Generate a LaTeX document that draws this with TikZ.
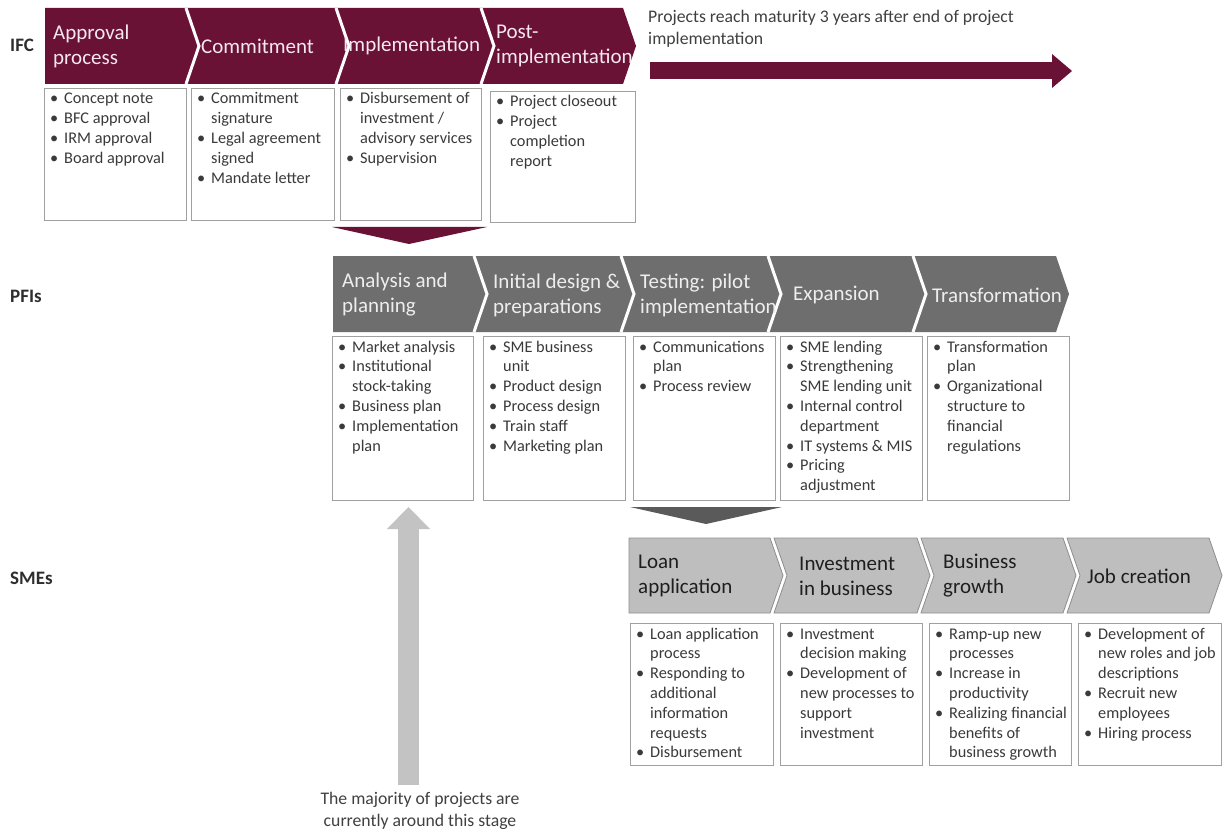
\documentclass[tikz,border=0pt]{standalone}
\usepackage{fontspec}
\setmainfont{Carlito}
\usetikzlibrary{arrows.meta}
\definecolor{ifc}{HTML}{6A1136}
\definecolor{ifctxt}{HTML}{F5E8EF}
\definecolor{pfic}{HTML}{6E6E6E}
\definecolor{pfitxt}{HTML}{EEEEEE}
\definecolor{smec}{HTML}{BEBEBE}
\definecolor{smeo}{HTML}{8E8E8E}
\definecolor{smetxt}{HTML}{1E1E1E}
\definecolor{boxc}{HTML}{A0A0A0}
\definecolor{bodyc}{HTML}{3A3A3A}
\definecolor{notec}{HTML}{404040}
\definecolor{labelc}{HTML}{2E2E2E}
\definecolor{upc}{HTML}{C3C3C3}
\definecolor{gdark}{HTML}{5A5A5A}
\newcommand\blist[1]{\begin{tabular}[t]{@{}l@{}l@{}}#1\end{tabular}}
\newcommand\bu{\makebox[14pt][l]{\textbullet}}
% first chevron (flat left): #1 left, #2 right top x, #3 top, #4 bottom, #5 style
\newcommand\chevF[5]{\path[#5] (#1,#3) -- (#2,#3) -- ({#2+13},{(#3+#4)/2}) -- (#2,#4) -- (#1,#4) -- cycle;}
\newcommand\chevN[5]{\path[#5] (#1,#3) -- (#2,#3) -- ({#2+13},{(#3+#4)/2}) -- (#2,#4) -- (#1,#4) -- ({#1+13},{(#3+#4)/2}) -- cycle;}
\newcommand\chevSep[3]{\draw[sepline] (#1,#2) -- ({#1+13},{(#2+#3)/2}) -- (#1,#3);}
\tikzset{
  lbl/.style={anchor=west, inner sep=0pt, text=labelc, font=\fontsize{19}{22}\selectfont\bfseries},
  hdr/.style={anchor=west, align=left, inner sep=0pt, font=\fontsize{21}{25}\selectfont},
  ifchdr/.style={hdr, text=ifctxt},
  pfihdr/.style={hdr, text=pfitxt},
  smehdr/.style={hdr, text=smetxt},
  sepline/.style={draw=white, line width=3pt, line join=miter},
  bx/.style={draw=boxc, line width=1.2pt, anchor=north west, inner sep=0pt, fill=white},
  btxt/.style={anchor=base west, inner sep=0pt, text=bodyc, font=\fontsize{16.3}{19.8}\selectfont},
  note/.style={inner sep=0pt, text=notec, font=\fontsize{17.7}{22}\selectfont},
}
\begin{document}
\begin{tikzpicture}[x=1pt,y=-1pt]
\useasboundingbox[fill=white] (0,0) rectangle (1225,834);

% row labels
\node[lbl] (lifc) at (10,45) {IFC};
\node[lbl] (lpfi) at (10,296) {PFIs};
\node[lbl] (lsme) at (10,578) {SMEs};

% ---------------- IFC row
\chevF{45}{186}{8}{84}{fill=ifc}
\chevN{186}{336}{8}{84}{fill=ifc}
\chevN{336}{481}{8}{84}{fill=ifc}
\chevN{481}{623}{8}{84}{fill=ifc}
\chevSep{186}{8}{84}
\chevSep{336}{8}{84}
\chevSep{481}{8}{84}
\node[ifchdr] (h1) at (53,46) {Approval\\process};
\node[ifchdr] (h2) at (201,46) {Commitment};
\node[ifchdr] (h3) at (343,46) {Implementation};
\node[ifchdr] (h4) at (496,46) {Post-\\implementation};

\node[bx, minimum width=142, minimum height=132] (ib1) at (44,88) {};
\node[bx, minimum width=143, minimum height=132] (ib2) at (191,88) {};
\node[bx, minimum width=141, minimum height=132] (ib3) at (340,88) {};
\node[bx, minimum width=145, minimum height=131] (ib4) at (490,91) {};
\node[btxt] (it1) at (50,104) {\blist{\bu & Concept note\\ \bu & BFC approval\\ \bu & IRM approval\\ \bu & Board approval}};
\node[btxt] (it2) at (197,104) {\blist{\bu & Commitment\\ & signature\\ \bu & Legal agreement\\ & signed\\ \bu & Mandate letter}};
\node[btxt] (it3) at (346,104) {\blist{\bu & Disbursement of\\ & investment /\\ & advisory services\\ \bu & Supervision}};
\node[btxt] (it4) at (496,107) {\blist{\bu & Project closeout\\ \bu & Project\\ & completion\\ & report}};

% long arrow and note
\node[note, anchor=west, align=left] (mat) at (648,29) {Projects reach maturity 3 years after end of project\\implementation};
\coordinate (ra1) at (650,71);
\coordinate (ra2) at (1072,71);
\draw[ifc, line width=17pt, -{Triangle[length=20pt,width=34pt,line width=0pt]}] (ra1) -- (ra2);

% down marker IFC -> PFI
\fill[ifc] (332,227) -- (487,227) -- (409,244) -- cycle;

% ---------------- PFI row
\chevF{333}{474}{256}{332}{fill=pfic}
\chevN{474}{621}{256}{332}{fill=pfic}
\chevN{621}{768}{256}{332}{fill=pfic}
\chevN{768}{913}{256}{332}{fill=pfic}
\chevN{913}{1056}{256}{332}{fill=pfic}
\chevSep{474}{256}{332}
\chevSep{621}{256}{332}
\chevSep{768}{256}{332}
\chevSep{913}{256}{332}
\node[pfihdr] (p1) at (342,295) {Analysis and\\planning};
\node[pfihdr] (p2) at (493,295) {Initial design \&\\preparations};
\node[pfihdr] (p3) at (640,295) {Testing: pilot\\implementation};
\node[pfihdr] (p4) at (793,295) {Expansion};
\node[pfihdr] (p5) at (932,295) {Transformation};

\node[bx, minimum width=141, minimum height=164] (pb1) at (332,336) {};
\node[bx, minimum width=142, minimum height=164] (pb2) at (483,336) {};
\node[bx, minimum width=142, minimum height=164] (pb3) at (633,336) {};
\node[bx, minimum width=142, minimum height=164] (pb4) at (780,336) {};
\node[bx, minimum width=142, minimum height=164] (pb5) at (927,336) {};
\node[btxt] (pt1) at (338,352) {\blist{\bu & Market analysis\\ \bu & Institutional\\ & stock-taking\\ \bu & Business plan\\ \bu & Implementation\\ & plan}};
\node[btxt] (pt2) at (489,352) {\blist{\bu & SME business\\ & unit\\ \bu & Product design\\ \bu & Process design\\ \bu & Train staff\\ \bu & Marketing plan}};
\node[btxt] (pt3) at (639,352) {\blist{\bu & Communications\\ & plan\\ \bu & Process review}};
\node[btxt] (pt4) at (786,352) {\blist{\bu & SME lending\\ \bu & Strengthening\\ & SME lending unit\\ \bu & Internal control\\ & department\\ \bu & IT systems \& MIS\\ \bu & Pricing\\ & adjustment}};
\node[btxt] (pt5) at (933,352) {\blist{\bu & Transformation\\ & plan\\ \bu & Organizational\\ & structure to\\ & financial\\ & regulations}};

% down marker PFI -> SME
\fill[gdark] (630,507) -- (782,507) -- (706,524) -- cycle;

% ---------------- SME row
\chevF{629}{770}{538}{613}{fill=smec, draw=smeo, line width=0.8pt}
\chevN{774}{917}{538}{613}{fill=smec, draw=smeo, line width=0.8pt}
\chevN{921}{1063}{538}{613}{fill=smec, draw=smeo, line width=0.8pt}
\chevN{1067}{1209}{538}{613}{fill=smec, draw=smeo, line width=0.8pt}
\node[smehdr] (s1) at (638,576) {Loan\\application};
\node[smehdr] (s2) at (799,576) {Investment\\in business};
\node[smehdr] (s3) at (943,576) {Business\\growth};
\node[smehdr] (s4) at (1087,576) {Job creation};

\node[bx, minimum width=143, minimum height=142] (sb1) at (630,623) {};
\node[bx, minimum width=142, minimum height=142] (sb2) at (780,623) {};
\node[bx, minimum width=142, minimum height=142] (sb3) at (929,623) {};
\node[bx, minimum width=143, minimum height=142] (sb4) at (1078,623) {};
\node[btxt] (st1) at (636,639) {\blist{\bu & Loan application\\ & process\\ \bu & Responding to\\ & additional\\ & information\\ & requests\\ \bu & Disbursement}};
\node[btxt] (st2) at (786,639) {\blist{\bu & Investment\\ & decision making\\ \bu & Development of\\ & new processes to\\ & support\\ & investment}};
\node[btxt] (st3) at (935,639) {\blist{\bu & Ramp-up new\\ & processes\\ \bu & Increase in\\ & productivity\\ \bu & Realizing financial\\ & benefits of\\ & business growth}};
\node[btxt] (st4) at (1084,639) {\blist{\bu & Development of\\ & new roles and job\\ & descriptions\\ \bu & Recruit new\\ & employees\\ \bu & Hiring process}};

% up arrow and note
\coordinate (ua1) at (408.5,785);
\coordinate (ua2) at (408.5,507);
\draw[upc, line width=21pt, -{Triangle[length=22pt,width=43pt,line width=0pt]}] (ua1) -- (ua2);
\node[note, align=center] (maj) at (420,811) {The majority of projects are\\currently around this stage};
\end{tikzpicture}
\end{document}
